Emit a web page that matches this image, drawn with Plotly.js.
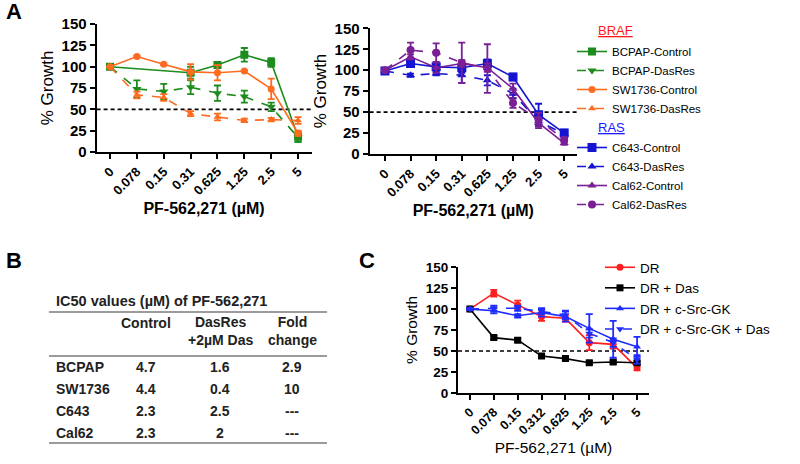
<!DOCTYPE html>
<html>
<head>
<meta charset="utf-8">
<script src="https://cdn.plot.ly/plotly-3.0.1.min.js"></script>
<style>html,body{margin:0;padding:0;background:#fff;}#chart{width:800px;height:464px;}</style>
</head>
<body>
<div id="chart"></div>
<script>
// ---------- data ----------
const concA = ['0', '0.078', '0.15', '0.31', '0.625', '1.25', '2.5', '5'];
const concC = ['0', '0.078', '0.15', '0.312', '0.625', '1.25', '2.5', '5'];

// Panel A left (BRAF)
const bcpapCtrl    = [100, null, null, 93, 102, 114, 105, 18];
const bcpapCtrlErr = [0, 0, 0, 7, 3, 8, 5, 6];
const bcpapDas     = [100, 74, 71, 76, 69, 65, 53, 17];
const bcpapDasErr  = [0, 10, 9, 8, 9, 7, 5, 5];
const swCtrl       = [100, 112, 103, 94, 93, 95, 74, 22];
const swCtrlErr    = [0, 1, 1, 9, 9, 1, 12, 3];
const swDas        = [100, 67, 64, 45, 41, 37, 38, 37];
const swDasErr     = [0, 4, 4, 3, 4, 2, 2, 4];

// Panel A right (RAS)
const c643Ctrl     = [99, 108, 104, 103, 108, 92, 47, 25];
const c643CtrlErr  = [2, 3, 4, 6, 5, 4, 13, 4];
const c643Das      = [99, 94, 96, 94, 88, 72, 39, 24];
const c643DasErr   = [1, 2, 2, 9, 6, 6, 6, 3];
const cal62Ctrl    = [100, 116, 103, 108, 103, 78, 37, 13];
const cal62CtrlErr = [1, 3, 6, 4, 5, 6, 6, 2];
const cal62Das     = [100, 124, 121, 109, 102, 61, 41, 17];
const cal62DasErr  = [1, 9, 11, 24, 29, 6, 8, 3];

// Panel C
const dr        = [100, 119, 105, 91, 89, 60, 58, 30];
const drErr     = [1, 4, 5, 5, 4, 9, 5, 3];
const drDas     = [100, 66, 63, 44, 41, 36, 37, 36];
const drDasErr  = [1, 2, 2, 2, 2, 2, 2, 2];
const drGK      = [100, 98, 92, 96, 91, 77, 64, 55];
const drGKErr   = [1, 3, 2, 5, 6, 17, 22, 12];
const drGKDas   = [100, 101, 101, 97, 93, 71, 60, 40];
const drGKDasErr= [1, 3, 3, 3, 5, 5, 5, 5];

// Panel B table
const tableTitle = 'IC50 values (µM) of PF-562,271';
const tableHeaders = ['Control', 'DasRes<br>+2µM Das', 'Fold<br>change'];
const tableRows = ['BCPAP', 'SW1736', 'C643', 'Cal62'];
const ic50Control = ['4.7', '4.4', '2.3', '2.3'];
const ic50DasRes = ['1.6', '0.4', '2.5', '2'];
const foldChange = ['2.9', '10', '---', '---'];

const yTicks = [0, 25, 50, 75, 100, 125, 150];
const threshold = 50;

// ---------- styling ----------
const FONT = 'Arial, "Liberation Sans", sans-serif';
const GREEN = '#1c8c1c', ORANGE = '#ff6b1f', BLUE = '#1414d2', PURPLE = '#7a1f96';
const RED = '#ff1f1f', BLACK = '#000000', BLUE2 = '#1f2cff';

function tr(x, y, err, name, color, dash, symbol, size, xa, ya, legend, group) {
  const t = {
    type: 'scatter', mode: 'lines+markers', x: x, y: y, name: name,
    xaxis: xa, yaxis: ya, connectgaps: true, legend: legend,
    line: {color: color, width: 1.6, dash: dash},
    marker: {color: color, symbol: symbol, size: size},
    error_y: {type: 'data', array: err, visible: true, color: color, thickness: 1.8, width: 3.5}
  };
  if (group) { t.legendgroup = group; }
  return t;
}

const data = [
  tr(concA, bcpapCtrl, bcpapCtrlErr, 'BCPAP-Control', GREEN, 'solid', 'square', 8, 'x', 'y', 'legend', 'braf'),
  tr(concA, bcpapDas, bcpapDasErr, 'BCPAP-DasRes', GREEN, 'dash', 'triangle-down', 8, 'x', 'y', 'legend', 'braf'),
  tr(concA, swCtrl, swCtrlErr, 'SW1736-Control', ORANGE, 'solid', 'circle', 7, 'x', 'y', 'legend', 'braf'),
  tr(concA, swDas, swDasErr, 'SW1736-DasRes', ORANGE, 'dash', 'triangle-up', 7, 'x', 'y', 'legend', 'braf'),
  tr(concA, c643Ctrl, c643CtrlErr, 'C643-Control', BLUE, 'solid', 'square', 9, 'x2', 'y2', 'legend', 'ras'),
  tr(concA, c643Das, c643DasErr, 'C643-DasRes', BLUE, 'dash', 'triangle-up', 8, 'x2', 'y2', 'legend', 'ras'),
  tr(concA, cal62Ctrl, cal62CtrlErr, 'Cal62-Control', PURPLE, 'solid', 'triangle-up', 8, 'x2', 'y2', 'legend', 'ras'),
  tr(concA, cal62Das, cal62DasErr, 'Cal62-DasRes', PURPLE, 'dash', 'circle', 8, 'x2', 'y2', 'legend', 'ras'),
  tr(concC, dr, drErr, 'DR', RED, 'solid', 'circle', 7, 'x3', 'y3', 'legend2'),
  tr(concC, drDas, drDasErr, 'DR + Das', BLACK, 'solid', 'square', 7, 'x3', 'y3', 'legend2'),
  tr(concC, drGK, drGKErr, 'DR + c-Src-GK', BLUE2, 'solid', 'triangle-up', 7, 'x3', 'y3', 'legend2'),
  tr(concC, drGKDas, drGKDasErr, 'DR + c-Src-GK + Das', BLUE2, 'dash', 'triangle-down', 7, 'x3', 'y3', 'legend2')
];

const bold = a => a.map(v => '<b>' + v + '</b>');

function xax(domain, range, anchor, cats, tfs, titleFont, titleText) {
  return {
    domain: domain, anchor: anchor, type: 'category', range: range,
    tickmode: 'array', tickvals: cats, ticktext: bold(cats),
    showline: true, linecolor: '#000', linewidth: 2, mirror: false,
    ticks: 'outside', ticklen: 5, tickwidth: 2, tickcolor: '#000',
    showgrid: false, zeroline: false, tickangle: -45,
    tickfont: {family: FONT, size: tfs, color: '#000'},
    title: {text: titleText, font: titleFont, standoff: 6}
  };
}
function yax(domain, anchor, tfs, titleFont) {
  return {
    domain: domain, anchor: anchor, range: [0, 150.4],
    tickmode: 'array', tickvals: yTicks, ticktext: bold(yTicks),
    showline: true, linecolor: '#000', linewidth: 2,
    ticks: 'outside', ticklen: 5, tickwidth: 2, tickcolor: '#000',
    showgrid: false, zeroline: false,
    tickfont: {family: FONT, size: tfs, color: '#000'},
    title: {text: '% Growth', font: titleFont, standoff: 4}
  };
}
const px = v => v / 800, py = v => 1 - v / 464;
const titleA = {family: FONT, size: 16, color: '#000', weight: 'bold'};
const ytitleA = {family: FONT, size: 17, color: '#000'};
const titleC = {family: FONT, size: 15.5, color: '#000'};

const annotations = [
  {text: '<b>A</b>', x: px(4), y: py(12), xref: 'paper', yref: 'paper', xanchor: 'left', yanchor: 'middle', showarrow: false, font: {family: FONT, size: 22, color: '#000'}},
  {text: '<b>B</b>', x: px(4), y: py(260), xref: 'paper', yref: 'paper', xanchor: 'left', yanchor: 'middle', showarrow: false, font: {family: FONT, size: 22, color: '#000'}},
  {text: '<b>C</b>', x: px(357), y: py(260), xref: 'paper', yref: 'paper', xanchor: 'left', yanchor: 'middle', showarrow: false, font: {family: FONT, size: 22, color: '#000'}},
  {text: '<b>' + tableTitle + '</b>', x: px(54), y: py(301), xref: 'paper', yref: 'paper', xanchor: 'left', yanchor: 'middle', showarrow: false, font: {family: FONT, size: 14.5, color: '#222'}},
  {text: '<u>BRAF</u>', x: px(596), y: py(31), xref: 'paper', yref: 'paper', xanchor: 'left', yanchor: 'middle', showarrow: false, font: {family: FONT, size: 13, color: '#ff1a1a'}},
  {text: '<u>RAS</u>', x: px(596), y: py(127), xref: 'paper', yref: 'paper', xanchor: 'left', yanchor: 'middle', showarrow: false, font: {family: FONT, size: 13, color: '#1a1aff'}}
];
const colX = [146, 220, 292];
const tfont = {family: FONT, size: 14, color: '#222'};
tableHeaders.forEach((h, i) => {
  const two = h.indexOf('<br>') >= 0;
  annotations.push({text: '<b>' + h.replace('<br>', '</b><br><b>') + '</b>', x: px(colX[i]), y: py(two ? 331 : 323), xref: 'paper', yref: 'paper',
    xanchor: 'center', yanchor: 'middle', showarrow: false, font: tfont, align: 'center'});
});
const rowY = [367, 389, 411, 433];
tableRows.forEach((r, i) => {
  annotations.push({text: '<b>' + r + '</b>', x: px(54), y: py(rowY[i]), xref: 'paper', yref: 'paper', xanchor: 'left', yanchor: 'middle', showarrow: false, font: tfont});
  [ic50Control[i], ic50DasRes[i], foldChange[i]].forEach((v, j) => {
    annotations.push({text: '<b>' + v + '</b>', x: px(colX[j]), y: py(rowY[i]), xref: 'paper', yref: 'paper', xanchor: 'center', yanchor: 'middle', showarrow: false, font: tfont});
  });
});

const rule = yv => ({type: 'line', xref: 'paper', yref: 'paper', x0: px(49), x1: px(327), y0: py(yv), y1: py(yv), line: {color: '#7a7a7a', width: 1.6}});
const dashLine = (xr, yr) => ({type: 'line', xref: xr + ' domain', yref: yr, x0: 0, x1: 1, y0: threshold, y1: threshold, line: {color: '#000', width: 1.6, dash: '4px,3px'}, layer: 'below'});

const layout = {
  width: 800, height: 464, margin: {l: 0, r: 0, t: 0, b: 0},
  paper_bgcolor: '#fff', plot_bgcolor: 'rgba(0,0,0,0)',
  font: {family: FONT, color: '#000'},
  xaxis: xax([px(96.6), px(311.5)], [-0.5, 7.5], 'y', concA, 13, titleA, 'PF-562,271 (µM)'),
  yaxis: yax([py(152), py(23.8)], 'x', 15, ytitleA),
  xaxis2: xax([px(369.6), px(577)], [-0.6, 7.5], 'y2', concA, 13, titleA, 'PF-562,271 (µM)'),
  yaxis2: yax([py(154), py(28)], 'x2', 15, ytitleA),
  xaxis3: xax([px(458), px(649)], [-0.5, 7.5], 'y3', concC, 12.5, titleC, 'PF-562,271 (µM)'),
  yaxis3: yax([py(393), py(266.8)], 'x3', 13.5, titleC),
  legend: {x: px(572), y: py(37), xanchor: 'left', yanchor: 'top', traceorder: 'grouped', tracegroupgap: 20,
    font: {family: FONT, size: 11.5, color: '#000'}, bgcolor: 'rgba(0,0,0,0)', itemwidth: 30},
  legend2: {x: px(600), y: py(252), xanchor: 'left', yanchor: 'top',
    font: {family: FONT, size: 13.5, color: '#000'}, bgcolor: 'rgba(0,0,0,0)', itemwidth: 30},
  showlegend: true,
  annotations: annotations,
  shapes: [rule(312), rule(356), rule(443), dashLine('x', 'y'), dashLine('x2', 'y2'), dashLine('x3', 'y3')]
};

Plotly.newPlot('chart', data, layout, {staticPlot: true, displayModeBar: false});
</script>
</body>
</html>
